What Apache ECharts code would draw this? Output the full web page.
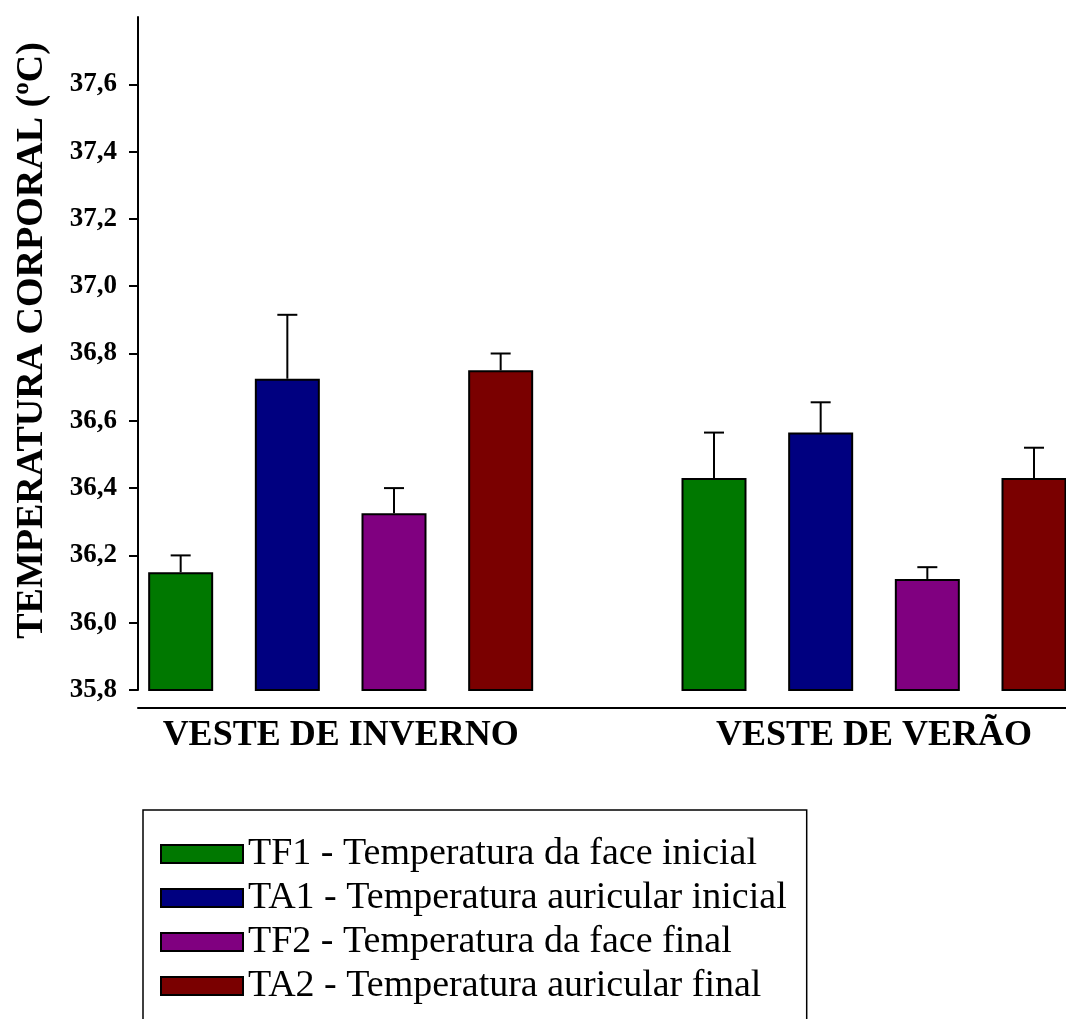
<!DOCTYPE html>
<html>
<head>
<meta charset="utf-8">
<script src="https://cdn.jsdelivr.net/npm/echarts@6/dist/echarts.min.js"></script>
<style>
html,body{margin:0;padding:0;background:#fff;}
#chart{width:1066px;height:1019px;}
</style>
</head>
<body>
<div id="chart"></div>
<script>
// ---- data ----
const groups = ['VESTE DE INVERNO', 'VESTE DE VERÃO'];
const seriesNames = [
  'TF1 - Temperatura da face inicial',
  'TA1 - Temperatura auricular inicial',
  'TF2 - Temperatura da face final',
  'TA2 - Temperatura auricular final'
];
const tf1 = [36.15, 36.43];
const ta1 = [36.725, 36.565];
const tf2 = [36.325, 36.13];
const ta2 = [36.75, 36.43];
const tf1Err = [0.05, 0.135];
const ta1Err = [0.19, 0.09];
const tf2Err = [0.075, 0.035];
const ta2Err = [0.05, 0.09];
const yTicks = [35.8, 36.0, 36.2, 36.4, 36.6, 36.8, 37.0, 37.2, 37.4, 37.6];
const colors = ['#007800', '#000080', '#800080', '#7a0000'];

const means = [tf1, ta1, tf2, ta2];
const errs = [tf1Err, ta1Err, tf2Err, ta2Err];
const slotsPerGroup = seriesNames.length + 1;
const slot = (g, s) => g * slotsPerGroup + s;
const groupCenters = groups.map((_, g) => slot(g, (seriesNames.length - 1) / 2));

const FONT = '"Liberation Serif", "Times New Roman", serif';

const barSeries = seriesNames.map((name, s) => ({
  name: name,
  type: 'bar',
  barWidth: 65,
  barGap: '-100%',
  clip: true,
  itemStyle: { color: colors[s], borderColor: '#000', borderWidth: 2 },
  data: groups.map((_, g) => [slot(g, s), means[s][g]])
}));

const errData = [];
seriesNames.forEach((_, s) => groups.forEach((_, g) => {
  errData.push([slot(g, s), means[s][g], means[s][g] + errs[s][g]]);
}));

const chart = echarts.init(document.getElementById('chart'));
chart.setOption({
  animation: false,
  backgroundColor: '#fff',
  grid: { left: 138, right: 0, top: 17, bottom: 329 },
  legend: {
    data: seriesNames,
    orient: 'vertical',
    left: 143,
    top: 810,
    height: 400,
    icon: 'rect',
    itemWidth: 82,
    itemHeight: 18,
    itemGap: 4,
    padding: [24, 20, 22, 17],
    borderColor: '#000',
    borderWidth: 1.5,
    textStyle: { fontFamily: FONT, fontSize: 38, color: '#000', lineHeight: 40 }
  },
  xAxis: {
    type: 'value',
    min: -0.4,
    max: 8.3,
    offset: 18,
    splitLine: { show: false },
    axisLine: { show: true, onZero: false, lineStyle: { color: '#000', width: 2 } },
    axisTick: { show: false },
    axisLabel: {
      customValues: groupCenters,
      formatter: v => {
        const i = groupCenters.findIndex(c => Math.abs(c - v) < 1e-6);
        return i >= 0 ? groups[i] : '';
      },
      fontFamily: FONT, fontWeight: 'bold', fontSize: 36, color: '#000', margin: 10
    }
  },
  yAxis: {
    type: 'value',
    min: 35.8,
    max: 37.8,
    interval: 0.2,
    name: 'TEMPERATURA CORPORAL (ºC)',
    nameLocation: 'middle',
    nameGap: 87,
    nameTextStyle: { fontFamily: FONT, fontWeight: 'bold', fontSize: 38, color: '#000', padding: [0, 0, 0, 26] },
    splitLine: { show: false },
    axisLine: { show: true, onZero: false, lineStyle: { color: '#000', width: 2 } },
    axisTick: { show: true, length: 9, customValues: yTicks, lineStyle: { color: '#000', width: 2 } },
    axisLabel: {
      customValues: yTicks,
      formatter: v => v.toFixed(1).replace('.', ','),
      fontFamily: FONT, fontWeight: 'bold', fontSize: 27, color: '#000', margin: 21
    }
  },
  series: barSeries.concat([{
    type: 'custom',
    name: 'err',
    z: 3,
    clip: false,
    data: errData,
    renderItem: (params, api) => {
      const x = api.value(0);
      const p0 = api.coord([x, api.value(1)]);
      const p1 = api.coord([x, api.value(2)]);
      const hw = 10;
      return {
        type: 'group',
        children: [
          { type: 'line', shape: { x1: p0[0], y1: p0[1], x2: p1[0], y2: p1[1] }, style: { stroke: '#000', lineWidth: 2 } },
          { type: 'line', shape: { x1: p1[0] - hw, y1: p1[1], x2: p1[0] + hw, y2: p1[1] }, style: { stroke: '#000', lineWidth: 2 } }
        ]
      };
    }
  }])
});
</script>
</body>
</html>
